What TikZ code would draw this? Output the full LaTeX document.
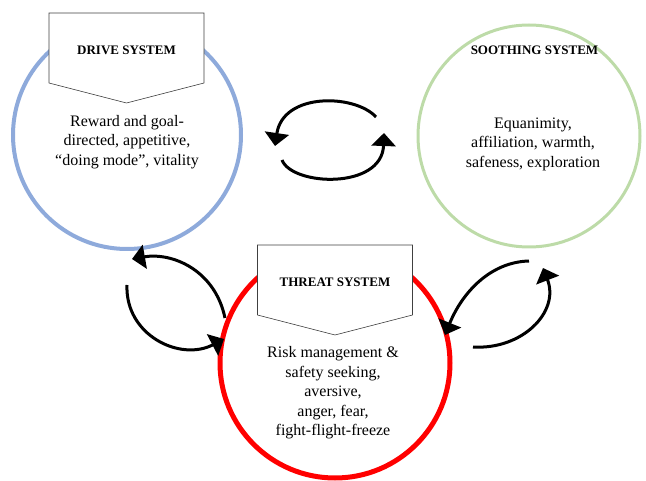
\documentclass[tikz,border=0pt]{standalone}
\usepackage{fontspec}
\setmainfont{Liberation Serif}
\usetikzlibrary{arrows.meta}
\definecolor{driveblue}{HTML}{8EAADB}
\definecolor{soothegreen}{HTML}{BDDBA8}
\definecolor{threatred}{HTML}{FF0000}
\begin{document}
\begin{tikzpicture}[x=1pt,y=-1pt,
  system/.style={circle,draw,inner sep=0pt},
  header/.style={font=\fontsize{13}{15}\selectfont\bfseries},
  body/.style={align=center,font=\fontsize{16}{19.5}\selectfont},
  cycle/.style={line width=3pt,-{Triangle[length=13pt,width=24pt]}},
  banner/.style={draw=black!75,line width=0.6pt,fill=white}
]
\useasboundingbox (0,0) rectangle (646,481);

% the three systems
\node[system,draw=driveblue,line width=4pt,minimum size=228pt] (drive) at (127,135) {};
\node[system,draw=soothegreen,line width=3pt,minimum size=222pt] (soothe) at (529,136) {};
\node[system,draw=threatred,line width=5pt,minimum size=230pt] (threat) at (335,363) {};

% title banners pointing down into each circle
\newcommand{\banner}[3]{%
  \draw[banner] (#1-77.5,#2) -- (#1+77.5,#2) -- (#1+77.5,#2+70) -- (#1,#2+90)
    -- (#1-77.5,#2+70) -- cycle;}
\banner{126.5}{13}
\banner{534.5}{13}
\banner{335}{245}

\node[header] (driveT) at (126.5,50) {DRIVE SYSTEM};
\node[header] (sootheT) at (534.5,50) {SOOTHING SYSTEM};
\node[header] (threatT) at (335,282) {THREAT SYSTEM};

\node[body] (driveB) at (127,142) {Reward and goal-\\directed, appetitive,\\“doing mode”, vitality};
\node[body] (sootheB) at (533,144) {Equanimity,\\affiliation, warmth,\\safeness, exploration};
\node[body] (threatB) at (333,393) {Risk management \&\\safety seeking,\\aversive,\\anger, fear,\\fight-flight-freeze};

% drive <-> soothing
\coordinate (ds1) at (376,117);
\coordinate (ds2) at (275,146);
\coordinate (ds3) at (282,160);
\coordinate (ds4) at (384,133);
\draw[cycle] (ds1) .. controls (355,94) and (283,92) .. (ds2);
\draw[cycle] (ds3) .. controls (292,186) and (382,190) .. (ds4);

% drive <-> threat
\coordinate (dt1) at (225,318);
\coordinate (dt2) at (132,259);
\coordinate (dt3) at (127,285);
\coordinate (dt4) at (224,339);
\draw[cycle] (dt1) .. controls (215,270) and (172,252) .. (dt2);
\draw[cycle] (dt3) .. controls (125,335) and (180,362) .. (dt4);

% soothing <-> threat
\coordinate (st1) at (529,261);
\coordinate (st2) at (445,335);
\coordinate (st3) at (473,347);
\coordinate (st4) at (543,268);
\draw[cycle] (st1) .. controls (490,262) and (462,293) .. (st2);
\draw[cycle] (st3) .. controls (522,350) and (560,312) .. (st4);
\end{tikzpicture}
\end{document}
